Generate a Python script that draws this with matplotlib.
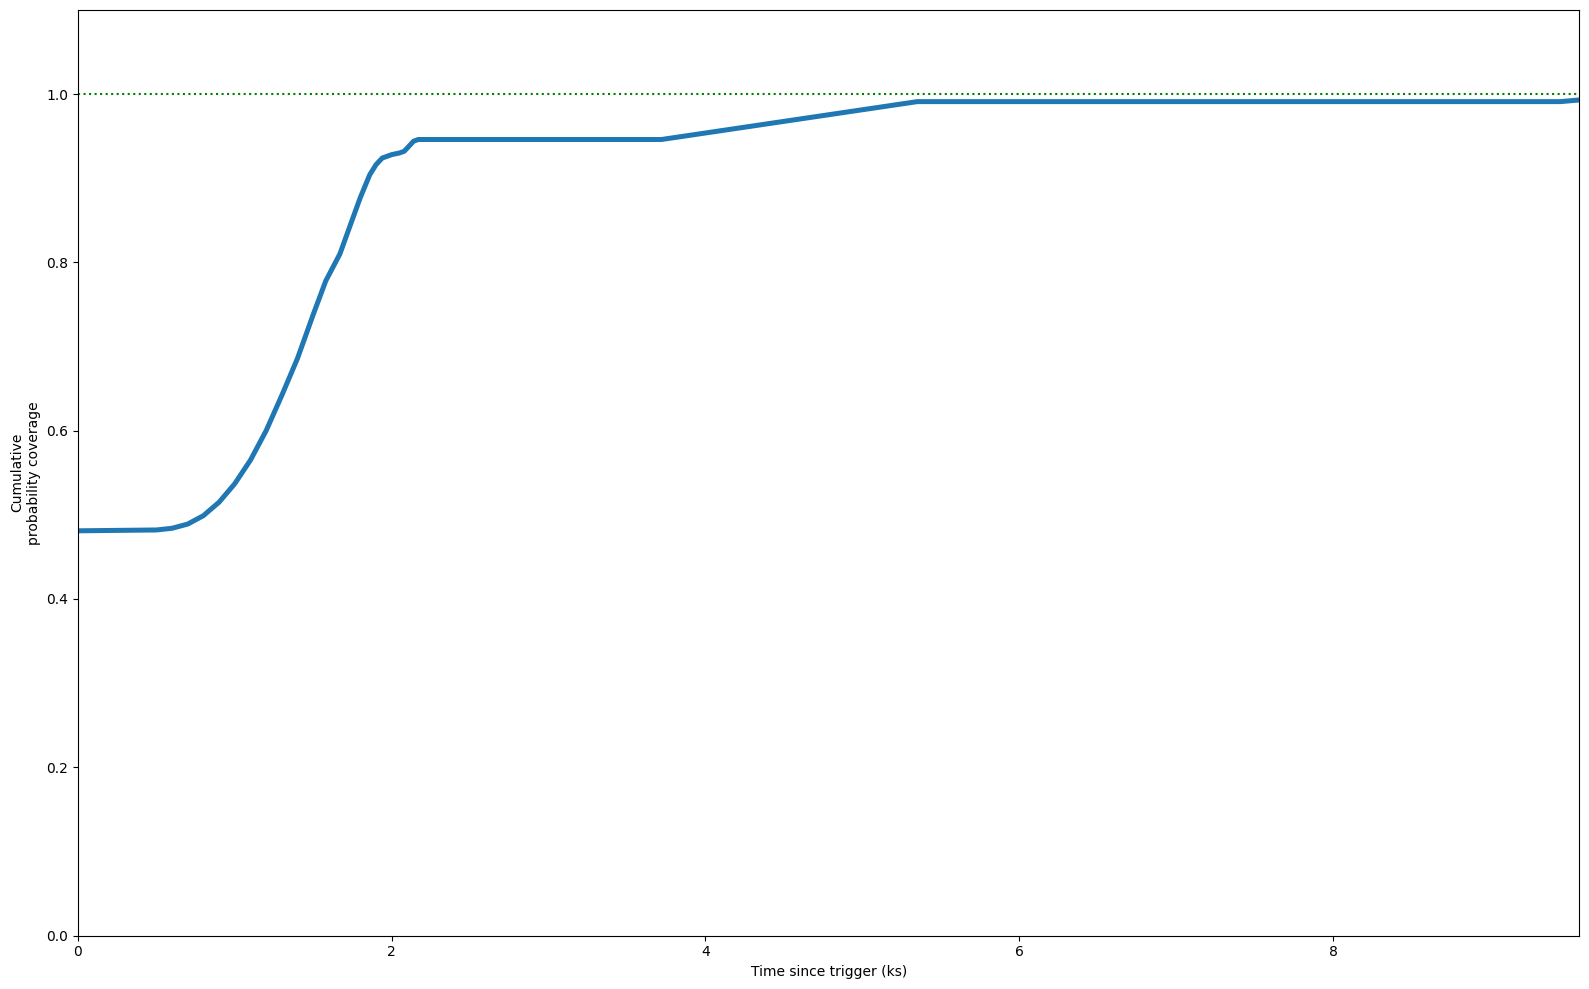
import matplotlib
matplotlib.use('Agg')
import matplotlib.pyplot as plt

# cumulative probability coverage vs time since trigger
time_ks = [0.0, 0.5, 0.6, 0.7, 0.8, 0.9, 1.0, 1.1, 1.2, 1.3, 1.4, 1.5, 1.58, 1.67, 1.73, 1.80,
           1.86, 1.90, 1.94, 2.00, 2.05, 2.08, 2.11, 2.14, 2.17, 3.72, 5.35, 9.45, 9.57]
coverage = [0.481, 0.482, 0.484, 0.489, 0.499, 0.515, 0.537, 0.565, 0.600, 0.642, 0.686, 0.738,
            0.778, 0.810, 0.841, 0.877, 0.904, 0.916, 0.924, 0.928, 0.930, 0.932, 0.938, 0.944,
            0.946, 0.946, 0.991, 0.991, 0.993]

fig = plt.figure(figsize=(15.89, 9.89), dpi=100)
ax = fig.add_axes([0.049, 0.054, 0.945, 0.936])
ax.plot(time_ks, coverage, color='tab:blue', lw=3.6)
ax.axhline(1.0, color='g', ls=':')
ax.set_xlim(0, 9.57)
ax.set_ylim(0, 1.1)
ax.set_xlabel('Time since trigger (ks)')
ax.set_ylabel('Cumulative\nprobability coverage')
fig.savefig('out.png', dpi=100)
